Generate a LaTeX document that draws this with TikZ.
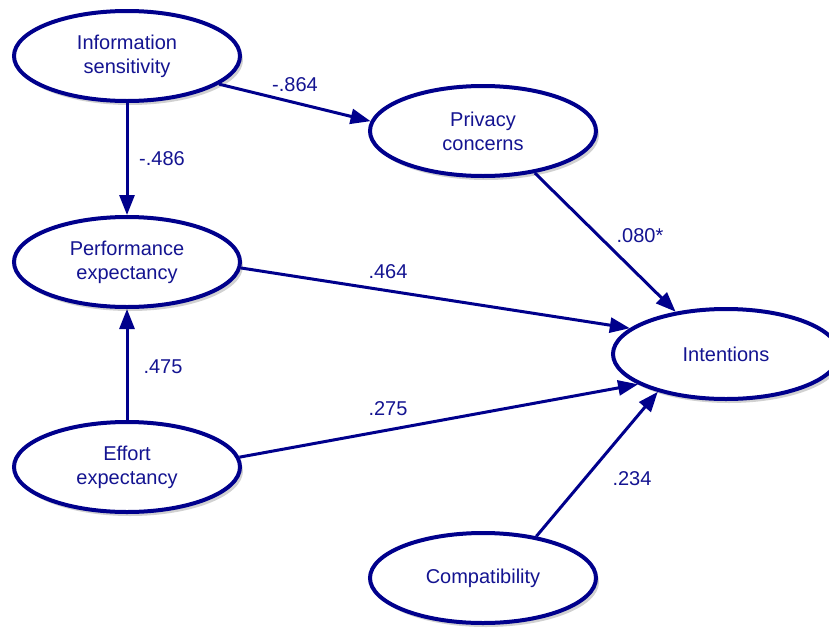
\documentclass[tikz,border=0pt]{standalone}
\usepackage{fontspec}
\setmainfont{Liberation Sans}
\usetikzlibrary{shapes.geometric,arrows.meta,shadows}
\definecolor{navy}{RGB}{0,0,140}
\definecolor{navytext}{RGB}{20,20,145}
\tikzset{
  construct/.style={ellipse, draw=navy, line width=4pt, fill=white,
    minimum width=226pt, minimum height=90pt, inner sep=0pt,
    align=center, text=navytext, font=\fontsize{20}{24}\selectfont,
    drop shadow={shadow xshift=3pt, shadow yshift=-4pt, opacity=0.18, fill=black}},
  path/.style={draw=navy, line width=3pt, -{Triangle[length=20pt,width=15pt]}},
  coef/.style={text=navytext, font=\fontsize{20}{24}\selectfont, inner sep=0pt}
}
\begin{document}
\begin{tikzpicture}[x=1pt,y=-1pt]
\useasboundingbox (0,0) rectangle (829,627);
\node[construct] (is) at (127,56) {Information\\sensitivity};
\node[construct] (pc) at (483,131) {Privacy\\concerns};
\node[construct] (pe) at (127,262) {Performance\\expectancy};
\node[construct] (int) at (726,354) {Intentions};
\node[construct] (ee) at (127,467) {Effort\\expectancy};
\node[construct] (comp) at (483,578) {Compatibility};

\draw[path] (is.-17) -- (pc.175);
\draw[path] (is.south) -- (pe.north);
\draw[path] (pc.-39) -- (int.140);
\draw[path] (pe.-3.6) -- (int.165.6);
\draw[path] (ee.north) -- (pe.south);
\draw[path] (ee.5.7) -- (int.199.5);
\draw[path] (comp.38) -- (int.209);

\node[coef] (l1) at (295,85) {-.864};
\node[coef] (l2) at (162,159) {-.486};
\node[coef] (l3) at (640,236) {.080*};
\node[coef] (l4) at (388,272) {.464};
\node[coef] (l5) at (163,367) {.475};
\node[coef] (l6) at (388,409) {.275};
\node[coef] (l7) at (632,479) {.234};
\end{tikzpicture}
\end{document}
